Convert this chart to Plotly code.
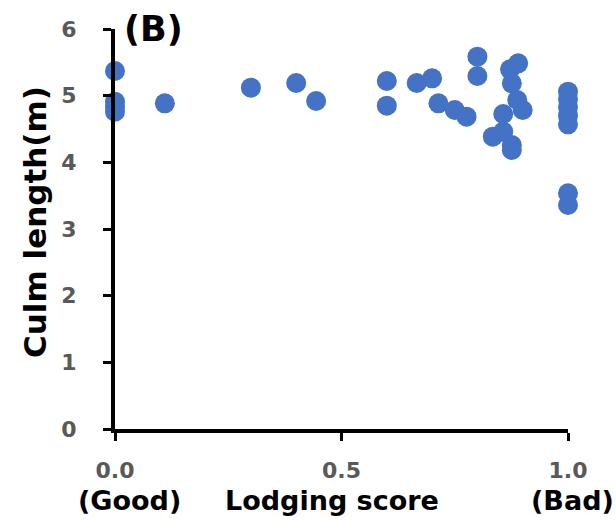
import plotly.graph_objects as go

# Lodging score (0 = good, 1 = bad) and culm length (m) per line
lodging_score = [0.0, 0.0, 0.0, 0.0, 0.11, 0.30, 0.40, 0.444,
                 0.60, 0.60, 0.666, 0.70, 0.714, 0.75, 0.776,
                 0.80, 0.80, 0.834, 0.857, 0.857, 0.876, 0.876,
                 0.876, 0.872, 0.89, 0.888, 0.90,
                 1.0, 1.0, 1.0, 1.0, 1.0, 1.0, 1.0]
culm_length = [5.37, 4.91, 4.84, 4.76, 4.885, 5.12, 5.19, 4.92,
               5.22, 4.85, 5.19, 5.26, 4.885, 4.785, 4.685,
               5.585, 5.295, 4.385, 4.725, 4.46, 4.26, 4.185,
               5.185, 5.395, 5.485, 4.935, 4.785,
               5.06, 4.95, 4.83, 4.70, 4.57, 3.535, 3.36]

x_ticks = [0.0, 0.5, 1.0]
x_tick_text = ["0.0", "0.5", "1.0"]
y_ticks = [0, 1, 2, 3, 4, 5, 6]

FONT = "DejaVu Sans"
GRAY = "#595959"

# plot area in pixels: x 115..568, y 29..429
L, R, T, B = 115, 48, 29, 93
PW, PH = 616 - L - R, 522 - T - B


def px_x(px):
    return (px - L) / PW


def px_y(py):
    return (522 - B - py) / PH


fig = go.Figure(
    go.Scatter(
        x=lodging_score,
        y=culm_length,
        mode="markers",
        marker=dict(color="#4472C4", size=20, line=dict(width=0)),
        cliponaxis=False,
    )
)

axis_common = dict(
    showgrid=False,
    zeroline=False,
    showline=True,
    linecolor="black",
    linewidth=4,
    ticks="outside",
    ticklen=8,
    tickwidth=3,
    tickcolor="black",
    tickfont=dict(family=FONT, size=22, color=GRAY, weight="bold"),
)

fig.update_xaxes(
    range=[0, 1],
    tickvals=x_ticks,
    ticktext=x_tick_text,
    ticklabelstandoff=11,
    **axis_common,
)
fig.update_yaxes(
    range=[0, 6],
    tickvals=y_ticks,
    ticklabelstandoff=22,
    **axis_common,
)

label_font = dict(family=FONT, size=27, color="black", weight="bold")

fig.update_layout(
    width=616,
    height=522,
    margin=dict(l=L, r=R, t=T, b=B),
    paper_bgcolor="white",
    plot_bgcolor="white",
    showlegend=False,
    annotations=[
        dict(text="(B)", x=px_x(122), y=px_y(29),
             xref="paper", yref="paper", xanchor="left", yanchor="middle",
             showarrow=False, font=dict(family=FONT, size=35, color="black", weight="bold")),
        dict(text="(Good)", x=px_x(129), y=px_y(500),
             xref="paper", yref="paper", xanchor="center", yanchor="middle",
             showarrow=False, font=label_font),
        dict(text="Lodging score", x=px_x(332), y=px_y(500),
             xref="paper", yref="paper", xanchor="center", yanchor="middle",
             showarrow=False, font=label_font),
        dict(text="(Bad)", x=px_x(572), y=px_y(500),
             xref="paper", yref="paper", xanchor="center", yanchor="middle",
             showarrow=False, font=label_font),
        dict(text="Culm length(m)", x=px_x(35), y=px_y(222),
             xref="paper", yref="paper", xanchor="center", yanchor="middle",
             textangle=-90, showarrow=False,
             font=dict(family=FONT, size=31, color="black", weight="bold")),
    ],
)

fig.write_html("out.html")
